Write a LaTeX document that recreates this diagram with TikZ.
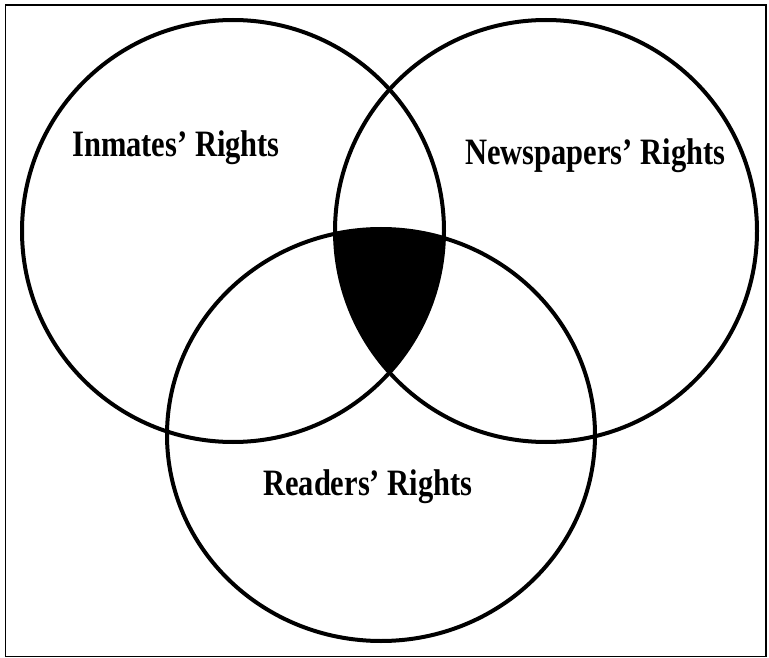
\documentclass[tikz,border=0pt]{standalone}
\usepackage{fontspec}
\setmainfont{Liberation Serif}
\newcommand{\tall}[1]{\scalebox{1}[1.22]{#1}}
\begin{document}
\begin{tikzpicture}[x=1pt,y=-1pt,
  ring/.style={draw=black,line width=4pt},
  label/.style={font=\fontsize{30.5}{34}\selectfont\bfseries,inner sep=0pt,anchor=base west},
  frame/.style={draw=black,line width=1.4pt}]
\useasboundingbox (0,0) rectangle (769,658);
\fill[white] (0,0) rectangle (769,658);
\draw[frame] (5.5,5) rectangle (766,656.5);
% shaded triple intersection
\begin{scope}
  \clip (233,231) circle (211);
  \clip (546,231) circle (211);
  \fill[black] (381,435) ellipse [x radius=214, y radius=206];
\end{scope}
\draw[ring] (233,231) circle (211);
\draw[ring] (546,231) circle (211);
\draw[ring] (381,435) ellipse [x radius=214, y radius=206];
\node[label] (inm) at (72,157) {\tall{Inmates’ Rights}};
\node[label] (news) at (465,165) {\tall{Newspapers’ Rights}};
\node[label] (read) at (263,495) {\tall{Readers’ Rights}};
\end{tikzpicture}
\end{document}
